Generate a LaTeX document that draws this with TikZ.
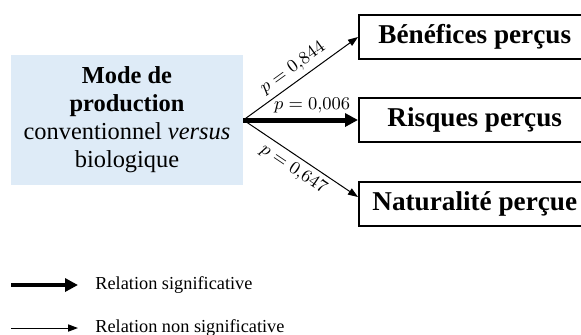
\documentclass[tikz,border=0pt]{standalone}
\usepackage{fontspec}
\setmainfont{Liberation Serif}
\usepackage{tikz}
\usetikzlibrary{arrows.meta, positioning, calc}
\definecolor{modeblue}{RGB}{222, 235, 247}

\begin{document}
\begin{tikzpicture}[x=0.5pt, y=-0.5pt,
    mode/.style={fill=modeblue, minimum width=116pt, minimum height=65pt, align=center,
        inner sep=0pt, font=\fontsize{12.2}{14}\selectfont},
    outcome/.style={draw, line width=0.75pt, minimum width=116pt, minimum height=22pt,
        inner sep=0pt, anchor=west, font=\fontsize{13.6}{16}\selectfont\bfseries},
    nonsig/.style={line width=0.5pt, -{Triangle[length=5pt, width=3.6pt]}},
    sig/.style={line width=2.5pt, -{Triangle[length=6.5pt, width=6.5pt]}},
    pval/.style={font=\fontsize{9.3}{11}\selectfont, inner sep=1.5pt},
    legtext/.style={anchor=west, inner sep=0pt, font=\fontsize{9.15}{11}\selectfont}]
    \clip (0,0) rectangle (581,334);
    \node[mode] (mode) at (127,120) {\textbf{Mode de}\\ \textbf{production}\\ conventionnel \textit{versus}\\ biologique};
    \node[outcome] (ben) at (358,37) {Bénéfices perçus};
    \node[outcome] (ris) at (358,120) {Risques perçus};
    \node[outcome] (nat) at (358,204) {Naturalité perçue};
    \draw[nonsig] (mode.east) -- (ben.west) node[pval, pos=0.5, sloped, above=1pt] {$p = 0{,}844$};
    \draw[sig] (mode.east) -- (ris.west) node[pval, pos=0.6, above=1pt] {$p = 0{,}006$};
    \draw[nonsig] (mode.east) -- ([yshift=3.5pt]nat.west) node[pval, pos=0.5, sloped, below=1pt] {$p = 0{,}647$};
    % legende
    \node[legtext] (sigtxt) at (95,285) {Relation significative};
    \node[legtext] (nonsigtxt) at (95,328) {Relation non significative};
    \coordinate (sigstart) at (11,285);
    \coordinate (nonsigstart) at (11,328);
    \draw[sig, line width=2pt] (sigstart) -- ([xshift=-8.5pt]sigtxt.west);
    \draw[nonsig] (nonsigstart) -- ([xshift=-8.5pt]nonsigtxt.west);
\end{tikzpicture}
\end{document}
